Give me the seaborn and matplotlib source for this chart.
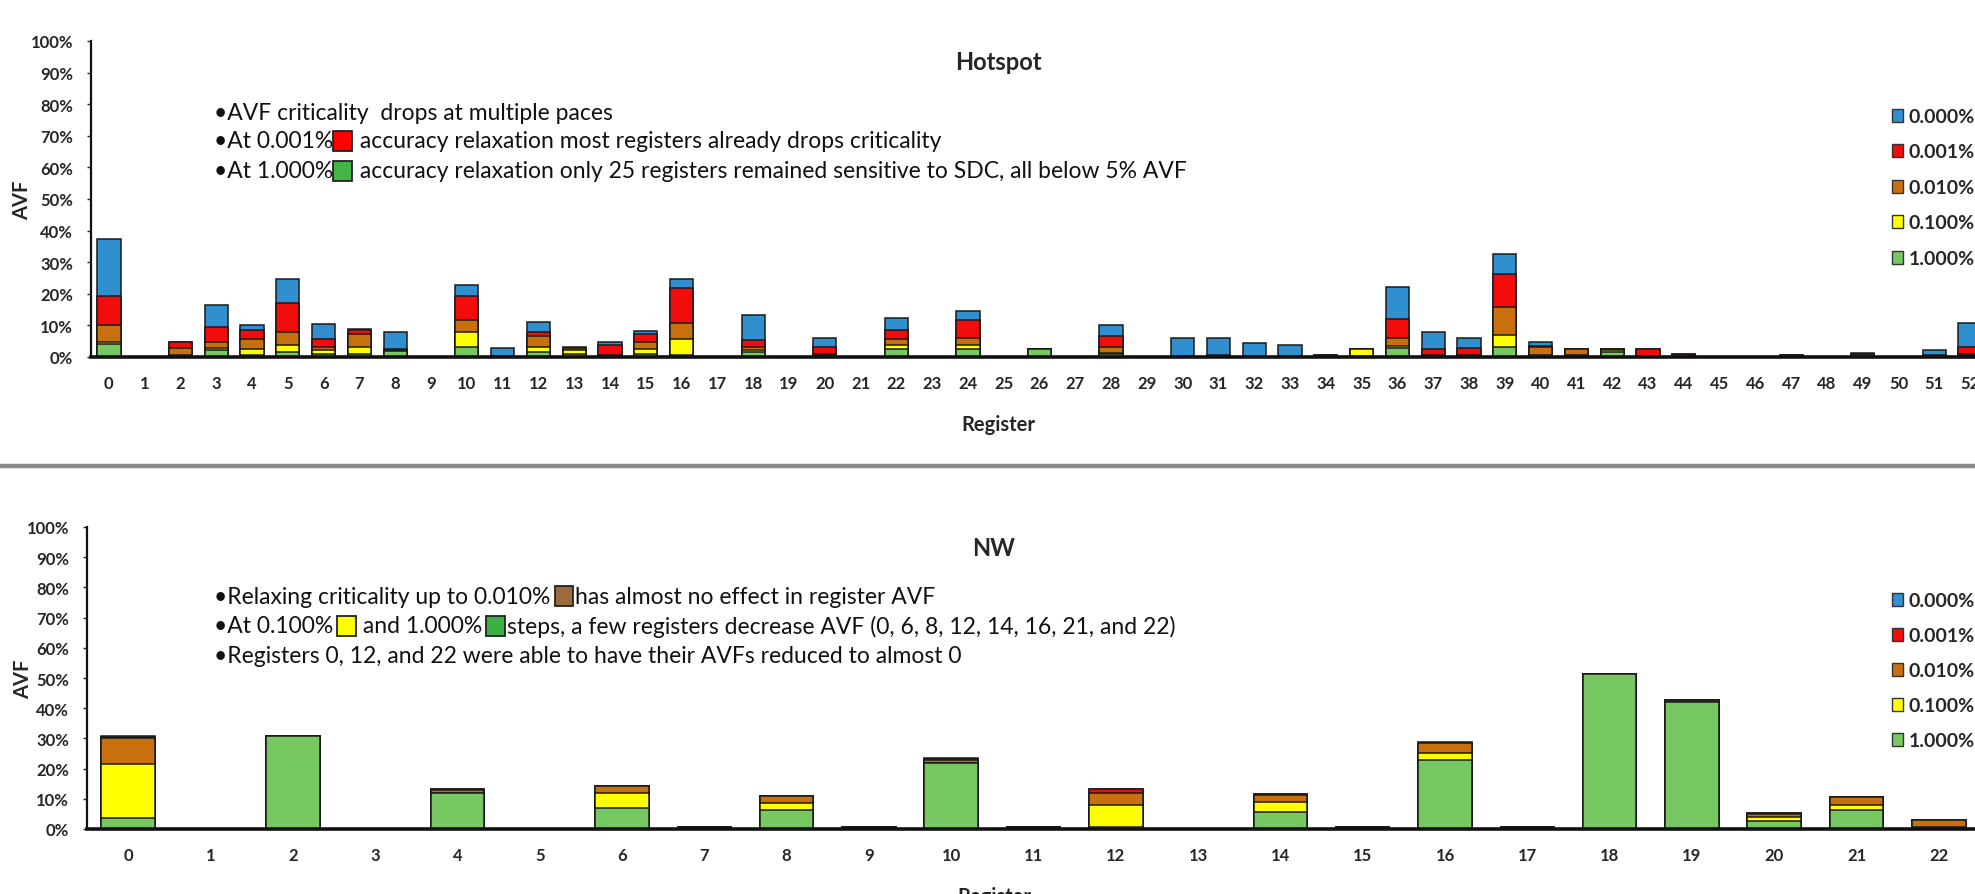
import numpy as np
import pandas as pd
import matplotlib
matplotlib.use("Agg")
import matplotlib.pyplot as plt
import seaborn as sns
from matplotlib.patches import Patch, Rectangle
from matplotlib.lines import Line2D
from matplotlib.offsetbox import TextArea, DrawingArea, HPacker, AnnotationBbox
from matplotlib.ticker import FuncFormatter

# ---------------------------------------------------------------------------
# data (AVF % per register, one list per accuracy relaxation level)
# ---------------------------------------------------------------------------
levels = ["0.000%", "0.001%", "0.010%", "0.100%", "1.000%"]
colors = ["#2F8FCF", "#F20C0C", "#C8700E", "#FFFF00", "#77C862"]

hot_regs = list(range(53))
hot_000 = [37.4, 0, 4.9, 16.5, 10.0, 24.7, 10.5, 8.8, 7.9, 0, 22.8, 2.8, 11.0, 3.2, 4.7, 8.1, 24.7, 0,
           13.4, 0, 6.0, 0, 12.3, 0, 14.5, 0, 2.4, 0, 10.2, 0, 6.0, 6.0, 4.5, 3.9, 0.6, 2.4, 22.1, 7.9,
           6.0, 32.6, 4.7, 2.6, 2.6, 2.4, 0.9, 0, 0, 0.7, 0, 1.2, 0, 2.1, 10.8]
hot_001 = [19.2, 0, 4.7, 9.5, 8.7, 17.2, 5.8, 8.5, 2.5, 0, 19.2, 0.4, 8.0, 3.0, 3.8, 7.4, 21.8, 0,
           5.3, 0, 3.2, 0, 8.4, 0, 11.6, 0, 2.4, 0, 6.8, 0, 0.4, 0.5, 0.3, 0.3, 0.5, 2.4, 11.9, 2.6,
           2.8, 26.3, 3.6, 2.6, 2.6, 2.4, 0.8, 0, 0, 0.6, 0, 1.0, 0, 0.5, 3.2]
hot_010 = [10.0, 0, 3.0, 4.7, 5.8, 7.9, 3.2, 7.3, 2.3, 0, 11.6, 0.3, 6.8, 3.0, 0.6, 4.7, 10.8, 0,
           3.2, 0, 1.0, 0, 5.6, 0, 6.0, 0, 2.4, 0, 3.2, 0, 0.3, 0.4, 0.2, 0.2, 0.4, 2.4, 6.0, 0.6,
           0.6, 15.8, 3.2, 2.5, 2.5, 0.4, 0.6, 0, 0, 0.4, 0, 0.8, 0, 0.3, 1.0]
hot_100 = [4.6, 0, 0.6, 2.8, 2.6, 3.7, 2.3, 3.2, 2.0, 0, 7.9, 0.2, 3.2, 2.1, 0.3, 2.6, 5.6, 0,
           2.1, 0, 0.5, 0, 3.7, 0, 3.7, 0, 2.4, 0, 1.2, 0, 0.2, 0.3, 0.1, 0.1, 0.2, 2.4, 3.4, 0.4,
           0.4, 7.1, 0.5, 0.6, 2.3, 0.2, 0.3, 0, 0, 0.2, 0, 0.5, 0, 0.2, 0.5]
hot_1000 = [4.2, 0, 0.3, 2.2, 0.6, 1.5, 1.0, 0.9, 1.8, 0, 3.2, 0, 1.5, 1.0, 0, 1.0, 0.5, 0,
            1.6, 0, 0.3, 0, 2.6, 0, 2.6, 0, 2.4, 0, 0.8, 0, 0, 0, 0, 0, 0, 0.3, 2.8, 0,
            0, 3.2, 0, 0.3, 1.5, 0, 0, 0, 0, 0, 0, 0, 0, 0, 0.3]

nw_regs = list(range(23))
nw_000 = [30.7, 0, 30.7, 0, 13.3, 0, 14.4, 0.8, 11.0, 0.8, 23.4, 0.8, 13.3, 0, 11.6, 0.8, 28.7, 0.8,
          51.4, 42.8, 5.2, 10.7, 3.1]
nw_001 = [30.5, 0, 30.7, 0, 13.2, 0, 14.3, 0.8, 11.0, 0.8, 23.3, 0.8, 13.2, 0, 11.5, 0.8, 28.6, 0.8,
          51.4, 42.8, 5.2, 10.7, 3.0]
nw_010 = [30.0, 0, 30.7, 0, 13.0, 0, 14.2, 0.7, 10.9, 0.7, 23.0, 0.7, 11.9, 0, 11.4, 0.7, 28.5, 0.7,
          51.4, 42.6, 5.1, 10.6, 2.9]
nw_100 = [21.5, 0, 30.7, 0, 12.0, 0, 11.9, 0.3, 8.6, 0.3, 22.0, 0.3, 8.0, 0, 9.1, 0.3, 25.2, 0.3,
          51.4, 42.3, 3.9, 8.0, 0.5]
nw_1000 = [3.5, 0, 30.7, 0, 11.9, 0, 6.9, 0.2, 6.4, 0.2, 21.9, 0.2, 0.5, 0, 5.5, 0.2, 22.7, 0.2,
           51.4, 42.2, 2.8, 6.3, 0.3]

hot_notes = [
    ["\u2022AVF criticality  drops at multiple paces"],
    ["\u2022At 0.001%", ("#FF0000", 0, 1), " accuracy relaxation most registers already drops criticality"],
    ["\u2022At 1.000%", ("#44B444", 0, 1), " accuracy relaxation only 25 registers remained sensitive to SDC, all below 5% AVF"],
]
nw_notes = [
    ["\u2022Relaxing criticality up to 0.010%", ("#9C6A3C", 3, 1), "has almost no effect in register AVF"],
    ["\u2022At 0.100%", ("#FFFF00", 3, 0), " and 1.000%", ("#3DB043", 3, 1), "steps, a few registers decrease AVF (0, 6, 8, 12, 14, 16, 21, and 22)"],
    ["\u2022Registers 0, 12, and 22 were able to have their AVFs reduced to almost 0"],
]

# ---------------------------------------------------------------------------
sns.set_style("white")
plt.rcParams["font.family"] = ["Lato", "DejaVu Sans"]

W, H = 1975, 895
fig = plt.figure(figsize=(W / 100, H / 100), dpi=100)


def px(x0, y_bottom, x1, y_top):
    return [x0 / W, 1 - y_bottom / H, (x1 - x0) / W, (y_bottom - y_top) / H]


def long_table(regs, series):
    rows = []
    for lvl, vals in zip(levels, series):
        for r, v in zip(regs, vals):
            rows.append((str(r), lvl, v))
    return pd.DataFrame(rows, columns=["register", "level", "avf"])


def draw_panel(ax, regs, series, title, title_xy, label_x, label_y, xlab_x, xlab_y):
    df = long_table(regs, series)
    sns.barplot(data=df, x="register", y="avf", hue="level", order=[str(r) for r in regs],
                hue_order=levels, palette=colors, saturation=1, dodge=False, width=0.65,
                errorbar=None, edgecolor="#1a1a1a", linewidth=1.1, ax=ax, legend=False)
    ax.set_xlim(-0.5, len(regs) - 0.5)
    ax.set_ylim(0, 100)
    ax.set_yticks(np.arange(0, 101, 10))
    ax.yaxis.set_major_formatter(FuncFormatter(lambda v, p: f"{v:.0f}%"))
    ax.tick_params(axis="y", length=3, width=1, pad=10, labelsize=12, left=True)
    ax.tick_params(axis="x", length=0, pad=13, labelsize=12)
    for lab in ax.get_xticklabels() + ax.get_yticklabels():
        lab.set_fontweight("bold")
    for s in ["top", "right"]:
        ax.spines[s].set_visible(False)
    ax.spines["left"].set_linewidth(1.6)
    ax.spines["left"].set_color("#111111")
    ax.spines["bottom"].set_linewidth(2.6)
    ax.spines["bottom"].set_color("#111111")
    ax.set_ylabel("AVF", fontsize=14.5, fontweight="bold")
    ax.yaxis.set_label_coords(label_x, label_y)
    ax.set_xlabel("Register", fontsize=14.5, fontweight="bold")
    ax.xaxis.set_label_coords(xlab_x, xlab_y)
    fig.text(title_xy[0] / W, 1 - title_xy[1] / H, title, fontsize=17, fontweight="bold",
             ha="center", va="center")


def rich_line(parts, x, y, fs=16.5):
    children = []
    for p in parts:
        if isinstance(p, str):
            children.append(TextArea(p, textprops=dict(fontsize=fs, color="#111111")))
        else:
            col, lpad, rpad = p
            da = DrawingArea(14 + lpad + rpad, 15, 0, 0)
            da.add_artist(Rectangle((lpad, 0.5), 13.5, 14.5, facecolor=col, edgecolor="#222222", lw=1.3))
            children.append(da)
    pack = HPacker(children=children, align="center", pad=0, sep=0)
    ab = AnnotationBbox(pack, (x / W, 1 - y / H), xycoords="figure fraction",
                        box_alignment=(0, 0.5), frameon=False, pad=0)
    fig.add_artist(ab)


def add_legend(x, y, spacing):
    handles = [Patch(facecolor=c, edgecolor="#333333", linewidth=1.0) for c in colors]
    fig.legend(handles, levels, loc="upper left", bbox_to_anchor=(x / W, 1 - y / H),
               frameon=False, prop=dict(weight="bold", size=14),
               handlelength=0.55, handleheight=0.65, handletextpad=0.3,
               labelspacing=spacing, borderpad=0, borderaxespad=0)


# top panel: Hotspot
ax1 = fig.add_axes(px(91, 358, 1988, 42))
draw_panel(ax1, hot_regs, [hot_000, hot_001, hot_010, hot_100, hot_1000], "Hotspot", (998, 62),
           -0.031, 0.5, (998 - 91) / 1897, -0.18)
for i, line in enumerate(hot_notes):
    rich_line(line, 214, [113, 142, 172][i])
add_legend(1892, 109, 0.95)

# separator between the two charts
fig.add_artist(Line2D([0, 1], [1 - 467 / H] * 2, transform=fig.transFigure, color="#8a8a8a", lw=3.2))

# bottom panel: NW
ax2 = fig.add_axes(px(87, 830, 1980, 528))
draw_panel(ax2, nw_regs, [nw_000, nw_001, nw_010, nw_100, nw_1000], "NW", (994, 548),
           -0.0285, 0.5, (994 - 87) / 1893, -0.19)
for i, line in enumerate(nw_notes):
    rich_line(line, 214, [597, 627, 657][i])
add_legend(1892, 593, 0.93)

fig.savefig("out.png", dpi=100)
